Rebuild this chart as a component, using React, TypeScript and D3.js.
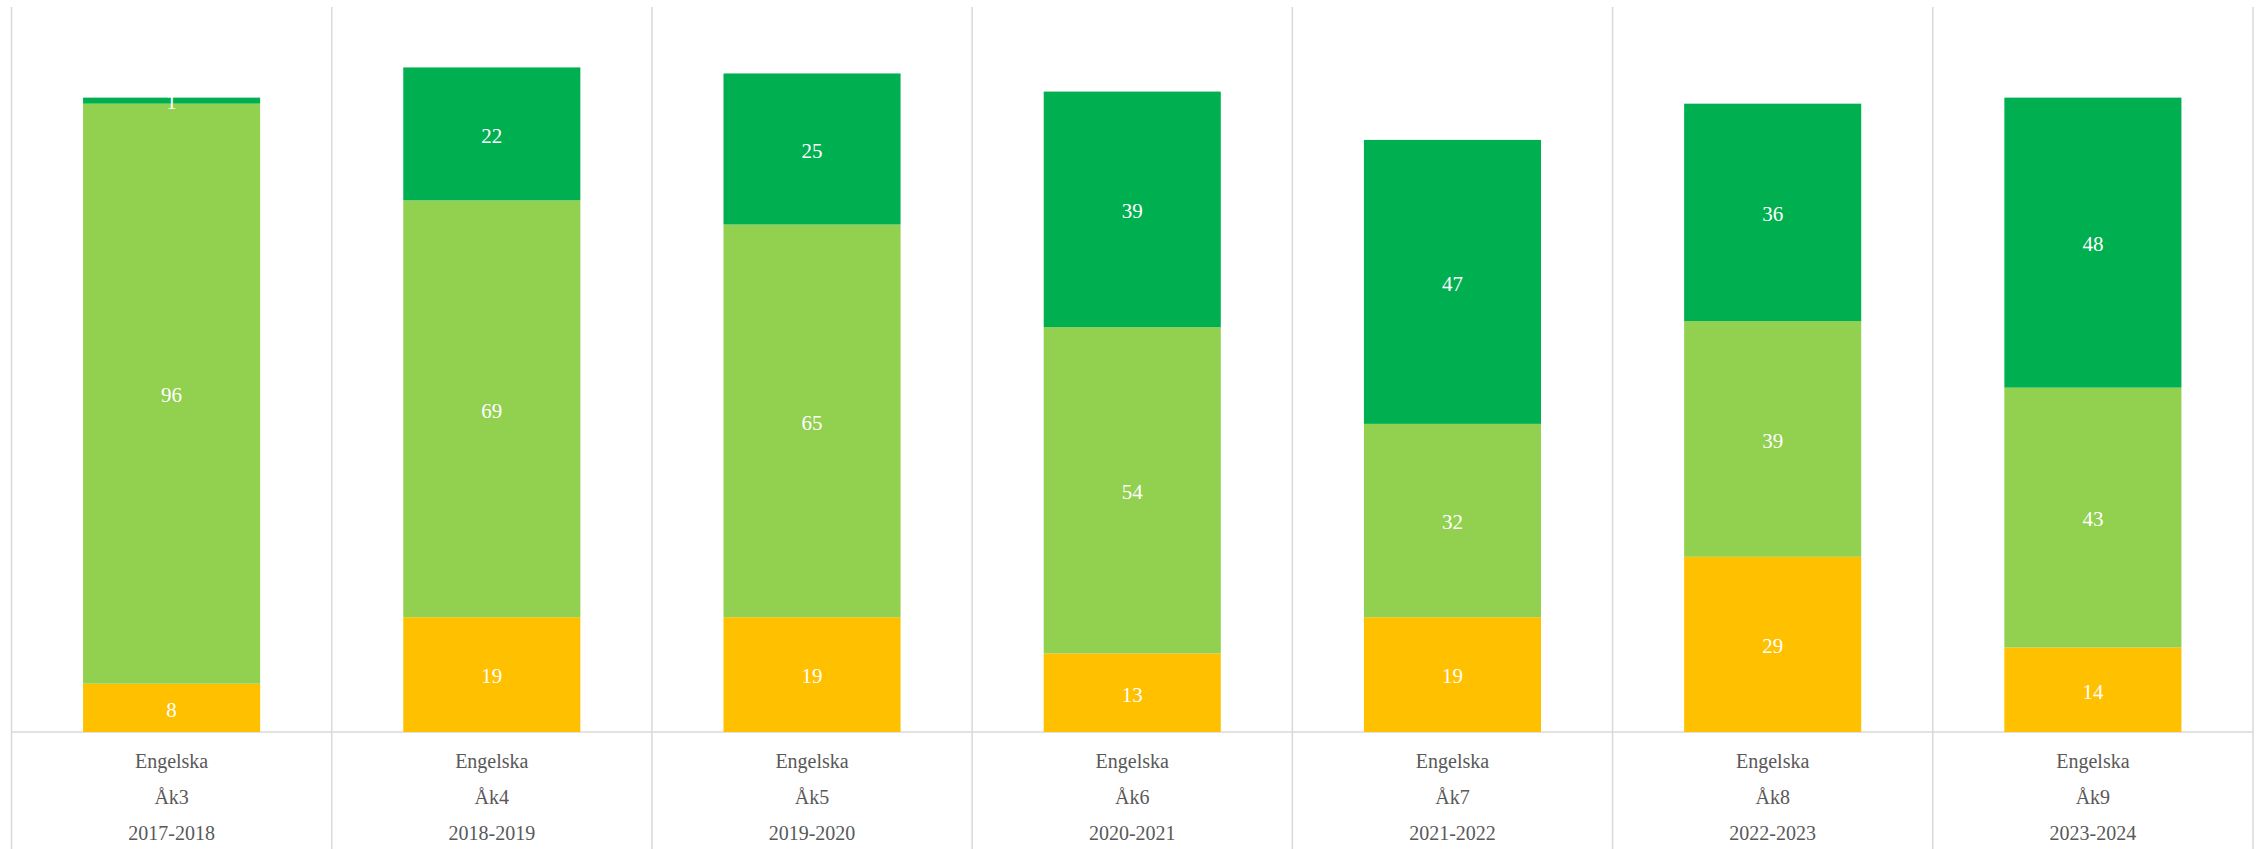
import * as d3 from "d3";
import React from "react";

const subjects = ["Engelska", "Engelska", "Engelska", "Engelska", "Engelska", "Engelska", "Engelska"];
const grades = ["Åk3", "Åk4", "Åk5", "Åk6", "Åk7", "Åk8", "Åk9"];
const years = ["2017-2018", "2018-2019", "2019-2020", "2020-2021", "2021-2022", "2022-2023", "2023-2024"];

// stacked bottom -> top
const yellowVals = [8, 19, 19, 13, 19, 29, 14];
const lightGreenVals = [96, 69, 65, 54, 32, 39, 43];
const darkGreenVals = [1, 22, 25, 39, 47, 36, 48];

const seriesKeys = ["yellow", "light", "dark"];
const seriesColors = ["#FFC000", "#92D050", "#00B050"];

const W = 2259;
const H = 849;
const left = 11.5;
const right = 2253;
const baseY = 732;
const topY = 7;

const App: React.FC = () => {
  const rows = years.map((y, i) => ({
    key: y,
    yellow: yellowVals[i],
    light: lightGreenVals[i],
    dark: darkGreenVals[i],
  }));

  const x = d3
    .scaleBand<string>()
    .domain(years)
    .range([left, right])
    .paddingInner(0.447)
    .paddingOuter(0.2235);

  const y = d3.scaleLinear().domain([0, 120]).range([baseY, topY]);

  const stack = d3.stack<any>().keys(seriesKeys);
  const layers = stack(rows);

  const step = (right - left) / years.length;
  const lines = d3.range(years.length + 1).map((i) => left + i * step);

  const font = "'Liberation Serif', 'Times New Roman', serif";

  return (
    <svg
      width={W}
      height={H}
      style={{ position: "absolute", left: 0, top: 0, background: "#fff" }}
    >
      {lines.map((lx, i) => (
        <line key={i} x1={lx} x2={lx} y1={topY} y2={H} stroke="#D9D9D9" strokeWidth={1.5} />
      ))}
      <line x1={left} x2={right} y1={baseY} y2={baseY} stroke="#D9D9D9" strokeWidth={1.5} />

      {layers.map((layer, li) => (
        <g key={li}>
          {layer.map((d, i) => (
            <rect
              key={i}
              x={x(years[i])}
              width={x.bandwidth()}
              y={y(d[1])}
              height={y(d[0]) - y(d[1])}
              fill={seriesColors[li]}
            />
          ))}
        </g>
      ))}

      {layers.map((layer, li) => (
        <g key={"l" + li}>
          {layer.map((d, i) => (
            <text
              key={i}
              x={(x(years[i]) as number) + x.bandwidth() / 2}
              y={(y(d[0]) + y(d[1])) / 2 + 4}
              textAnchor="middle"
              dominantBaseline="middle"
              fill="#fff"
              fontFamily={font}
              fontSize={21}
            >
              {d[1] - d[0]}
            </text>
          ))}
        </g>
      ))}

      {years.map((yr, i) => {
        const cx = (x(yr) as number) + x.bandwidth() / 2;
        return (
          <g key={"c" + i} fill="#595959" fontFamily={font} fontSize={20} textAnchor="middle">
            <text x={cx} y={763} dominantBaseline="middle">{subjects[i]}</text>
            <text x={cx} y={799} dominantBaseline="middle">{grades[i]}</text>
            <text x={cx} y={835} dominantBaseline="middle">{yr}</text>
          </g>
        );
      })}
    </svg>
  );
};

export default App;
